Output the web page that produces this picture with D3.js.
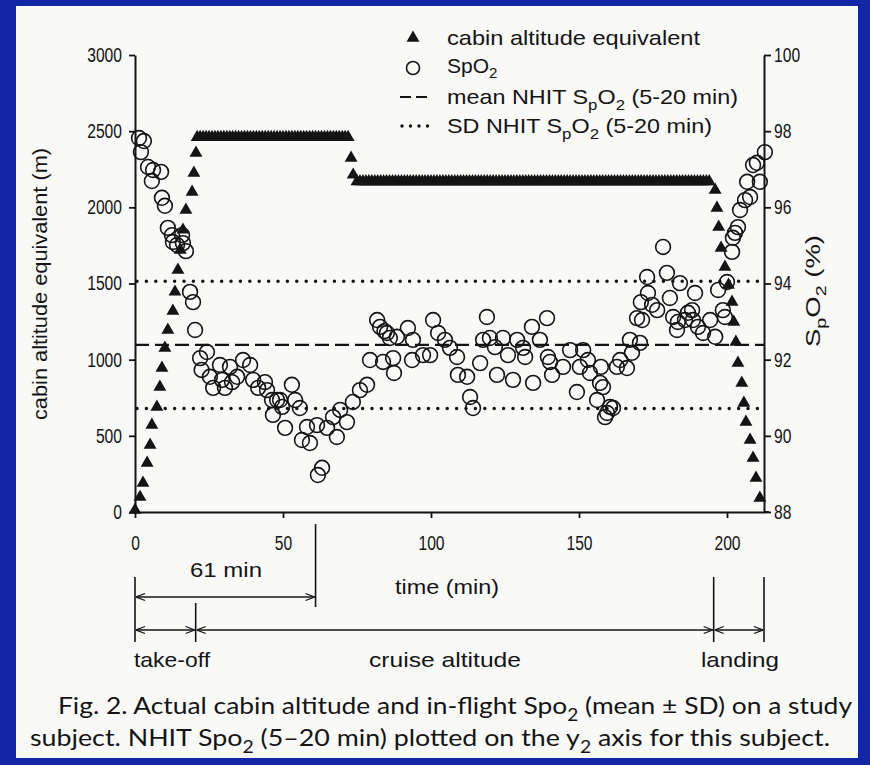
<!DOCTYPE html>
<html><head><meta charset="utf-8">
<script src="https://cdn.jsdelivr.net/npm/d3@7"></script>
<style>body{margin:0;background:#1226a6;}svg{display:block}</style>
</head><body><svg id="c" width="870" height="765"></svg>
<script>
// ---------------- DATA ----------------
const cabinTime = [0,1.7,2.7,4.1,5.1,5.7,7.4,8.4,9.1,10.1,11.1,12.8,13.5,14.5,15.3,16.2,17.2,19.3,19.9,20.6,
 21,22,23,24,25,26,27,28,29,30,31,32,33,34,35,36,37,38,39,40,41,42,43,44,45,46,47,48,49,50,
 51,52,53,54,55,56,57,58,59,60,61,62,63,64,65,66,67,68,69,70,71,72,
 73,73.7,
 75,76,77,78,79,80,81,82,83,84,85,86,87,88,89,90,91,92,93,94,95,96,97,98,99,100,
 101,102,103,104,105,106,107,108,109,110,111,112,113,114,115,116,117,118,119,120,
 121,122,123,124,125,126,127,128,129,130,131,132,133,134,135,136,137,138,139,140,
 141,142,143,144,145,146,147,148,149,150,151,152,153,154,155,156,157,158,159,160,
 161,162,163,164,165,166,167,168,169,170,171,172,173,174,175,176,177,178,179,180,
 181,182,183,184,185,186,187,188,189,190,191,192,193,194,
 196,196.6,197.2,198,199.3,200.5,201.7,202.3,203,203.7,205,205.7,206.4,207.8,208.8,209.8,211.1];
const cabinAlt = [13,98,190,322,440,571,689,821,945,1077,1195,1320,1445,1589,1720,1852,1983,2101,2226,2357,
 2460,2460,2460,2460,2460,2460,2460,2460,2460,2460,2460,2460,2460,2460,2460,2460,2460,2460,2460,2460,2460,2460,2460,2460,2460,2460,2460,2460,2460,2460,
 2460,2460,2460,2460,2460,2460,2460,2460,2460,2460,2460,2460,2460,2460,2460,2460,2460,2460,2460,2460,2460,2460,
 2324,2213,
 2170,2170,2170,2170,2170,2170,2170,2170,2170,2170,2170,2170,2170,2170,2170,2170,2170,2170,2170,2170,2170,2170,2170,2170,2170,2170,
 2170,2170,2170,2170,2170,2170,2170,2170,2170,2170,2170,2170,2170,2170,2170,2170,2170,2170,2170,2170,
 2170,2170,2170,2170,2170,2170,2170,2170,2170,2170,2170,2170,2170,2170,2170,2170,2170,2170,2170,2170,
 2170,2170,2170,2170,2170,2170,2170,2170,2170,2170,2170,2170,2170,2170,2170,2170,2170,2170,2170,2170,
 2170,2170,2170,2170,2170,2170,2170,2170,2170,2170,2170,2170,2170,2170,2170,2170,2170,2170,2170,2170,
 2170,2170,2170,2170,2170,2170,2170,2170,2170,2170,2170,2170,2170,2170,
 2114,1996,1871,1733,1608,1490,1379,1247,1116,978,847,716,591,473,355,223,92];

const spo2Time = [1.35,2.0,3.0,4.4,5.7,6.1,8.8,9.1,10.1,11.1,12.5,12.8,14.2,15.9,16.2,17.2,18.6,19.6,20.3,22.0,
 22.5,24.3,25.3,26.4,28.7,29.4,30.4,32.1,32.8,34.5,36.5,38.9,39.9,41.6,43.9,44.6,46.3,46.6,48.0,49.0,
 49.7,50.7,53.0,54.1,55.7,56.4,58.1,59.1,61.5,61.8,63.2,64.9,66.9,68.2,69.3,71.6,73.6,76.0,78.4,79.4,
 81.8,82.8,83.8,84.3,85.1,86.1,87.2,87.5,88.5,92.2,93.6,93.9,97.3,99.7,100.7,102.4,104.7,106.4,108.8,109.1,
 112.2,113.2,114.2,116.6,117.6,118.9,119.9,121.6,122.3,124.3,126.0,127.7,129.1,131.1,131.8,134.1,134.5,136.8,139.2,139.5,
 140.2,140.9,144.6,147.0,149.3,150.3,151.4,153.0,153.7,156.1,157.1,157.4,158.1,158.8,159.5,160.5,161.5,162.8,163.9,166.2,
 167.2,167.9,169.6,170.6,170.9,171.3,173.0,173.3,174.7,176.4,178.4,179.7,180.7,181.8,183.1,183.4,184.1,185.8,186.8,188.2,
 188.5,189.2,190.2,191.9,194.3,196.0,197.0,198.6,199.3,200.0,201.7,202.0,202.7,203.7,204.4,206.1,206.8,207.8,208.8,210.1,
 211.1,212.8];
const spo2Value = [97.82,97.45,97.74,97.06,96.69,96.98,96.93,96.25,96.04,95.46,95.27,95.09,95.01,95.27,95.06,94.85,93.78,93.51,92.78,92.04,
 91.73,92.20,91.55,91.26,91.86,91.47,91.26,91.81,91.41,91.55,91.99,91.86,91.47,91.26,91.41,91.20,90.94,90.55,90.94,90.94,
 90.76,90.21,91.34,90.94,90.73,89.89,90.23,89.81,90.28,88.97,89.16,90.21,90.49,89.97,90.68,90.36,90.89,91.20,91.34,91.99,
 93.04,92.86,91.94,92.75,92.70,92.57,92.04,91.65,92.60,92.83,91.99,92.52,92.12,92.12,93.04,92.70,92.52,92.31,92.07,91.60,
 91.55,91.02,90.73,91.91,92.52,93.12,92.57,92.33,91.60,92.57,92.12,91.47,92.52,92.31,92.07,92.86,91.39,92.52,93.09,92.07,
 91.94,91.60,91.81,92.25,91.15,91.81,92.25,91.99,91.65,90.94,91.39,91.81,91.28,90.49,90.60,90.76,90.73,91.81,91.99,91.78,
 92.52,92.18,93.09,92.44,93.51,93.04,94.17,93.75,93.44,93.30,94.96,94.28,93.62,93.12,92.78,92.99,94.01,93.04,93.23,93.30,
 93.04,93.75,92.86,92.70,93.04,92.60,93.83,93.30,93.12,94.04,94.83,95.20,95.33,95.48,95.93,96.19,96.67,96.27,97.11,97.17,
 96.67,97.45];

const nhitMean = 92.39;
const nhitSD = 1.67;

const altTicks = [0,500,1000,1500,2000,2500,3000];
const spoTicks = [88,90,92,94,96,98,100];
const timeTicks = [0,50,100,150,200];

const legendLabels = [
  [{t:"cabin altitude equivalent"}],
  [{t:"SpO"},{t:"2",sub:1}],
  [{t:"mean NHIT S"},{t:"p",sub:1},{t:"O"},{t:"2",sub:1},{t:" (5-20 min)"}],
  [{t:"SD NHIT S"},{t:"p",sub:1},{t:"O"},{t:"2",sub:1},{t:" (5-20 min)"}]
];
const yLeftTitle = [{t:"cabin altitude equivalent (m)"}];
const yRightTitle = [{t:"S"},{t:"p",sub:1},{t:"O"},{t:"2",sub:1},{t:" (%)"}];
const xTitle = [{t:"time (min)"}];
const durationMark = 61;
const durationLabel = [{t:"61 min"}];
const phaseBounds = [0, 20.5, 195.5, 212.5];
const phaseLabels = ["take-off","cruise altitude","landing"];
const captionLines = [
  [{t:"Fig. 2.  Actual cabin altitude and in-flight Spo"},{t:"2",sub:1},{t:" (mean ± SD) on a study"}],
  [{t:"subject. NHIT Spo"},{t:"2",sub:1},{t:" (5–20 min) plotted on the y"},{t:"2",sub:1},{t:" axis for this subject."}]
];

// ---------------- DRAW ----------------
const svg = d3.select("#c");
const INK = "#141414";
const FONT = "'Liberation Sans', Arial, sans-serif";

svg.append("rect").attr("width",870).attr("height",765).attr("fill","#1226a6");
svg.append("rect").attr("x",16).attr("y",6).attr("width",842).attr("height",752).attr("fill","#f9f9f8");

const x = d3.scaleLinear().domain([0,212.5]).range([135,764]);
const yA = d3.scaleLinear().domain([0,3000]).range([512,55]);
const yS = d3.scaleLinear().domain([88,100]).range([512,55]);

function richText(g, px, py, parts, o) {
  const t = g.append("text").attr("x",px).attr("y",py)
    .attr("font-family", o.family || FONT).attr("font-size", o.size)
    .attr("fill", INK).attr("text-anchor", o.anchor || "start");
  if (o.rotate) t.attr("transform", `rotate(${o.rotate},${px},${py})`);
  let prevSub = false;
  const sh = o.subShift || 0.28;
  parts.forEach(p => {
    const s = t.append("tspan").text(p.t);
    if (p.sub && !prevSub) s.attr("dy", o.size*sh).attr("font-size", o.size*0.72);
    else if (p.sub) s.attr("font-size", o.size*0.72);
    if (!p.sub && prevSub) s.attr("dy", -o.size*sh);
    prevSub = !!p.sub;
  });
  if (o.len) t.attr("textLength", o.len).attr("lengthAdjust","spacingAndGlyphs");
  return t;
}

// reference lines
const plot = svg.append("g");
plot.append("line").attr("x1",135).attr("x2",764)
  .attr("y1",yS(nhitMean)).attr("y2",yS(nhitMean))
  .attr("stroke",INK).attr("stroke-width",2.2).attr("stroke-dasharray","14 6");
[nhitMean+nhitSD, nhitMean-nhitSD].forEach(v => {
  plot.append("line").attr("x1",137).attr("x2",764)
    .attr("y1",yS(v)).attr("y2",yS(v))
    .attr("stroke",INK).attr("stroke-width",3.5).attr("stroke-linecap","round")
    .attr("stroke-dasharray","0 9.4");
});

// cabin altitude triangles
const tri = d3.symbol().type(d3.symbolTriangle).size(72);
plot.selectAll("path.tri").data(cabinTime.map((t,i)=>({t, a:cabinAlt[i]})))
  .join("path").attr("class","tri").attr("d",tri)
  .attr("transform", d=>`translate(${x(d.t)},${yA(d.a)})`)
  .attr("fill",INK);

// SpO2 circles
plot.selectAll("circle.sp").data(spo2Time.map((t,i)=>({t, v:spo2Value[i]})))
  .join("circle").attr("class","sp")
  .attr("cx", d=>x(d.t)).attr("cy", d=>yS(d.v)).attr("r",7.4)
  .attr("fill","none").attr("stroke",INK).attr("stroke-width",1.6);

// axes
function styleAxis(g){
  g.selectAll("path.domain").attr("stroke",INK).attr("stroke-width",2);
  g.selectAll(".tick line").attr("stroke",INK).attr("stroke-width",1.8);
  g.selectAll(".tick text").attr("fill",INK).attr("font-family",FONT).attr("font-size",20)
    .attr("textLength", function(){ return this.textContent.length*8.7; })
    .attr("lengthAdjust","spacingAndGlyphs");
}
svg.append("g").attr("transform","translate(135,0)")
  .call(d3.axisLeft(yA).tickValues(altTicks).tickSize(6).tickSizeOuter(0).tickPadding(7).tickFormat(d3.format("d")))
  .call(styleAxis);
svg.append("g").attr("transform","translate(764,0)")
  .call(d3.axisRight(yS).tickValues(spoTicks).tickSize(7).tickSizeOuter(0).tickPadding(3).tickFormat(d3.format("d")))
  .call(styleAxis);
const xa = svg.append("g").attr("transform","translate(0,512)")
  .call(d3.axisBottom(x).tickValues(timeTicks).tickSize(6).tickSizeOuter(0).tickPadding(18).tickFormat(d3.format("d")))
  .call(styleAxis);
xa.append("line").attr("x1",764).attr("x2",769).attr("stroke",INK).attr("stroke-width",2);

// axis titles
richText(svg, 47, 284, yLeftTitle, {size:21, anchor:"middle", rotate:-90, len:272});
richText(svg, 820, 291, yRightTitle, {size:21, anchor:"middle", rotate:-90, len:112});
richText(svg, 447, 594, xTitle, {size:21, anchor:"middle", len:104});

// legend
const lg = svg.append("g");
lg.append("path").attr("d", d3.symbol().type(d3.symbolTriangle).size(72)()).attr("transform","translate(413,38)").attr("fill",INK);
lg.append("circle").attr("cx",413).attr("cy",68).attr("r",6.5).attr("fill","none").attr("stroke",INK).attr("stroke-width",1.6);
lg.append("line").attr("x1",400).attr("x2",429).attr("y1",97).attr("y2",97).attr("stroke",INK).attr("stroke-width",2.2).attr("stroke-dasharray","11 5");
lg.append("line").attr("x1",402).attr("x2",429).attr("y1",126).attr("y2",126).attr("stroke",INK).attr("stroke-width",3.4).attr("stroke-linecap","round").attr("stroke-dasharray","0 8.5");
const legendY = [45, 73, 104, 133];
const legendLen = [253, null, 291, 265];
legendLabels.forEach((parts,i) => richText(lg, 447, legendY[i], parts, {size:21, len:legendLen[i], subShift: i===1 ? 0.22 : 0.28}));

// bottom annotations
const ann = svg.append("g").attr("stroke",INK).attr("stroke-width",1.6).attr("fill","none");
const defs = svg.append("defs");
defs.append("marker").attr("id","ah").attr("viewBox","-10 -5 10 10").attr("refX",0).attr("refY",0)
  .attr("markerWidth",10).attr("markerHeight",10).attr("markerUnits","userSpaceOnUse")
  .attr("orient","auto-start-reverse")
  .append("path").attr("d","M-9,-3.5 L0,0 L-9,3.5").attr("fill","none").attr("stroke",INK).attr("stroke-width",1.3);
ann.append("line").attr("x1",x(durationMark)).attr("x2",x(durationMark)).attr("y1",524).attr("y2",607);
ann.append("line").attr("x1",x(0)+1).attr("x2",x(durationMark)-1).attr("y1",597).attr("y2",597)
  .attr("marker-start","url(#ah)").attr("marker-end","url(#ah)");
phaseBounds.forEach((b,i) => {
  ann.append("line").attr("x1",x(b)).attr("x2",x(b)).attr("y1", i===1 ? 603 : 577).attr("y2",642);
});
for (let i=0;i<3;i++){
  ann.append("line").attr("x1",x(phaseBounds[i])+1).attr("x2",x(phaseBounds[i+1])-1).attr("y1",630).attr("y2",630)
    .attr("marker-start","url(#ah)").attr("marker-end","url(#ah)");
}
richText(svg, 226, 577, durationLabel, {size:21, anchor:"middle", len:72});
const phaseX = [172, 445, 740];
const phaseLen = [76, 152, 78];
phaseLabels.forEach((l,i) => richText(svg, phaseX[i], 667, [{t:l}], {size:21, anchor:"middle", len:phaseLen[i]}));

// caption
const CAP = "'Lato', 'Open Sans', sans-serif";
richText(svg, 58, 714, captionLines[0], {size:24, len:794, family:CAP});
richText(svg, 30, 746, captionLines[1], {size:24, len:800, family:CAP});
</script></body></html>
